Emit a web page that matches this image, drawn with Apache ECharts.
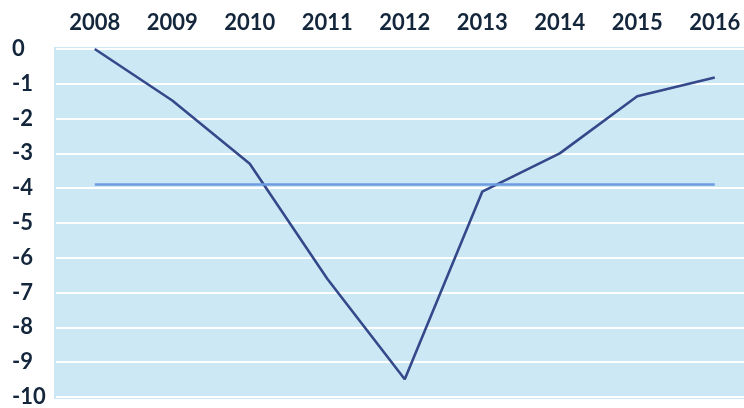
<!DOCTYPE html>
<html>
<head>
<meta charset="utf-8">
<script src="https://cdn.jsdelivr.net/npm/echarts@6/dist/echarts.min.js"></script>
<style>html,body{margin:0;padding:0;background:#fff;overflow:hidden}#c{width:760px;height:408px}</style>
</head>
<body>
<div id="c"></div>
<script>
const years = ['2008','2009','2010','2011','2012','2013','2014','2015','2016'];
const values = [0, -1.48, -3.3, -6.6, -9.49, -4.1, -3.0, -1.36, -0.82];
const refLevel = [-3.88];
const yTicks = [0, -1, -2, -3, -4, -5, -6, -7, -8, -9, -10];

const chart = echarts.init(document.getElementById('c'));
const bg = '#cde8f5';
chart.setOption({
  animation: false,
  backgroundColor: '#ffffff',
  textStyle: { fontFamily: 'Lato' },
  grid: {
    left: 56, width: 697.5, top: 49, height: 352,
    show: true, backgroundColor: bg, borderColor: bg, borderWidth: 4
  },
  xAxis: {
    type: 'category',
    data: years,
    position: 'top',
    boundaryGap: true,
    axisLine: { show: false },
    axisTick: { show: false },
    splitLine: { show: false },
    axisLabel: { color: '#14263b', fontSize: 22, fontWeight: 'bold', margin: 15, fontFamily: 'Lato' }
  },
  yAxis: {
    type: 'value',
    min: yTicks[yTicks.length - 1],
    max: yTicks[0],
    interval: 1,
    axisLine: { show: false },
    axisTick: { show: false },
    splitLine: { show: true, lineStyle: { color: '#ffffff', width: 2 } },
    axisLabel: {
      color: '#14263b', fontSize: 22, fontWeight: 'bold', fontFamily: 'Lato',
      align: 'left', margin: 44, padding: [0, 0, 10, 0]
    }
  },
  series: [{
    type: 'line',
    data: values,
    symbol: 'none',
    lineStyle: { color: '#34498a', width: 2.6 },
    z: 3,
    markLine: {
      symbol: 'none',
      silent: true,
      label: { show: false },
      lineStyle: { color: '#6d9be0', width: 2.5, type: 'solid' },
      data: [[{ coord: [years[0], refLevel[0]] }, { coord: [years[years.length - 1], refLevel[0]] }]]
    }
  }]
});
</script>
</body>
</html>
